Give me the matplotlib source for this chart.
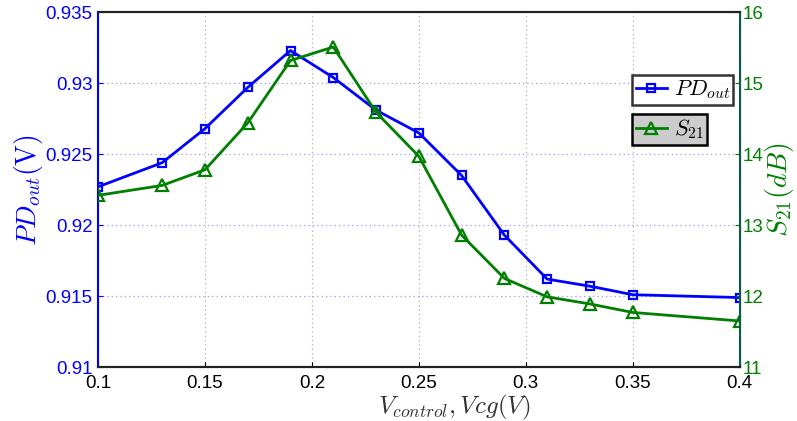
import matplotlib
matplotlib.use("Agg")
import matplotlib.pyplot as plt

plt.rcParams["mathtext.fontset"] = "cm"
plt.rcParams["font.family"] = ["Liberation Sans", "DejaVu Sans"]

vcg = [0.1, 0.13, 0.15, 0.17, 0.19, 0.21, 0.23, 0.25, 0.27, 0.29, 0.31, 0.33, 0.35, 0.4]
pd_out = [0.9227, 0.9244, 0.9268, 0.9297, 0.9323, 0.9304, 0.9281, 0.9265,
          0.9235, 0.9193, 0.9162, 0.9157, 0.9151, 0.9149]
s21 = [13.42, 13.56, 13.78, 14.44, 15.32, 15.51, 14.59, 13.97,
       12.86, 12.25, 11.99, 11.89, 11.77, 11.65]

BLUE = "#0000ff"
GREEN = "#007f00"

fig = plt.figure(figsize=(7.97, 4.21), dpi=100)
ax = fig.add_axes([0.123, 0.128, 0.805, 0.843])
ax2 = ax.twinx()

l1, = ax.plot(vcg, pd_out, "-s", color=BLUE, lw=2, ms=6, mfc="none", mew=1.6,
              label=r"$PD_{out}$")
l2, = ax2.plot(vcg, s21, "-^", color=GREEN, lw=2, ms=8, mfc="none", mew=1.6,
               label=r"$S_{21}$")

ax.set_xlim(0.1, 0.4)
ax.set_ylim(0.91, 0.935)
ax2.set_ylim(11, 16)
ax.set_xticks([0.1, 0.15, 0.2, 0.25, 0.3, 0.35, 0.4])
ax.set_xticklabels(["0.1", "0.15", "0.2", "0.25", "0.3", "0.35", "0.4"])
ax.set_yticks([0.91, 0.915, 0.92, 0.925, 0.93, 0.935])
ax.set_yticklabels(["0.91", "0.915", "0.92", "0.925", "0.93", "0.935"])
ax2.set_yticks([11, 12, 13, 14, 15, 16])

ax.tick_params(axis="x", direction="in", labelsize=13.5, colors="black", pad=6)
ax.tick_params(axis="y", direction="in", labelsize=13.5, colors=BLUE, pad=4)
ax2.tick_params(axis="y", direction="in", labelsize=13.5, colors=GREEN, pad=2)
ax.grid(axis="x", color="#b0b0b0", ls=(0, (1, 2.5)), lw=0.9)
ax.grid(axis="y", color="#9999ff", ls=(0, (1, 2.5)), lw=0.9)

ax.spines["left"].set_color(BLUE)
ax.spines["left"].set_linewidth(1.5)
ax2.spines["left"].set_visible(False)
ax2.spines["right"].set_color("#0a5a4a")
ax2.spines["right"].set_linewidth(1.5)
for sp in ["top", "bottom"]:
    ax2.spines[sp].set_color("#222222")
    ax2.spines[sp].set_linewidth(1.5)
    ax.spines[sp].set_linewidth(1.5)

ax.set_ylabel(r"$PD_{out}(\mathrm{V})$", color=BLUE, fontsize=20, labelpad=0)
ax2.set_ylabel(r"$S_{21}(dB)$", color=GREEN, fontsize=20, labelpad=0)
ax.set_xlabel(r"$V_{control},Vcg(V)$", color="#333333", fontsize=18)
ax.xaxis.set_label_coords(0.555, -0.074)

leg1 = ax2.legend(handles=[l1], loc="upper left", bbox_to_anchor=(0.833, 0.822),
                  fancybox=False, edgecolor="black", fontsize=16, handlelength=1.4,
                  handletextpad=0.3, borderpad=0.15, borderaxespad=0)
leg1.get_frame().set_linewidth(1.8)
ax2.add_artist(leg1)
leg2 = ax2.legend(handles=[l2], loc="upper left", bbox_to_anchor=(0.833, 0.713),
                  fancybox=False, edgecolor="black", facecolor="#cccccc", framealpha=1,
                  fontsize=16, handlelength=1.4, handletextpad=0.3, borderpad=0.15,
                  borderaxespad=0)
leg2.get_frame().set_linewidth(1.8)

fig.savefig("out.png", dpi=100)
